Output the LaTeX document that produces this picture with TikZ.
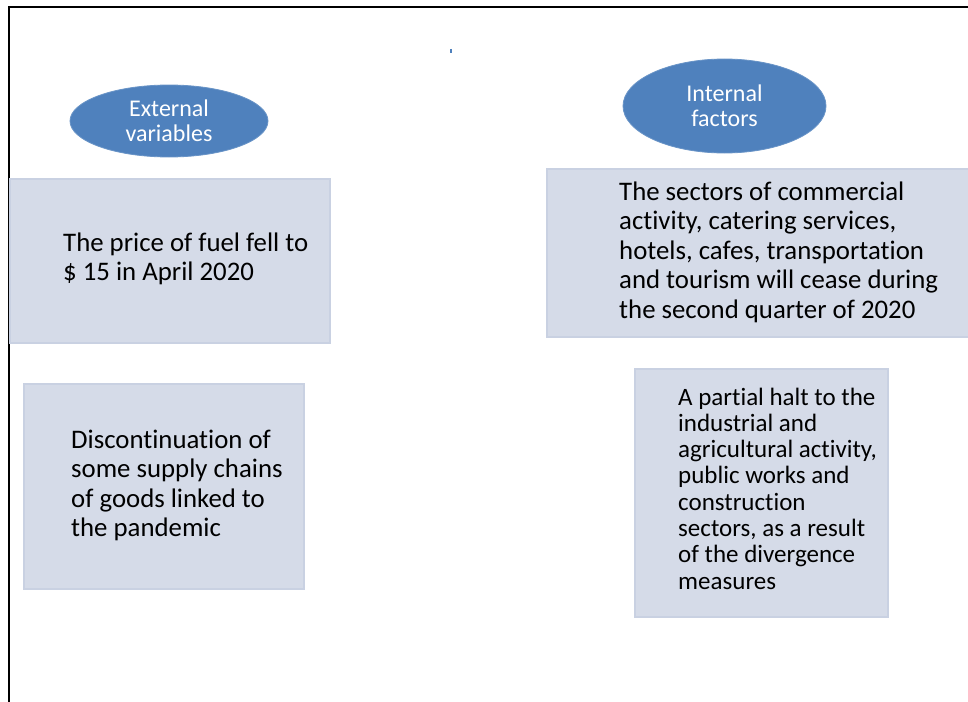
\documentclass[tikz,border=0pt]{standalone}
\usepackage{fontspec}
\setmainfont{Carlito}[RawFeature=-liga]
\usetikzlibrary{shapes.geometric}
\definecolor{ellblue}{RGB}{79,129,189}
\definecolor{boxfill}{RGB}{213,219,232}
\definecolor{boxline}{RGB}{201,209,226}
\tikzset{
  boxst/.style={draw=boxline, fill=boxfill, line width=2pt, inner sep=0pt, rectangle},
  ellst/.style={ellipse, fill=ellblue, draw=ellblue!85!white, line width=0.8pt, inner sep=0pt, text=white, align=center, font=\fontsize{24}{25}\selectfont},
  txtbig/.style={anchor=base west, inner sep=0pt, text=black},
}
\newcommand{\bigtext}[2]{\parbox[t]{#1pt}{\raggedright\fontsize{26.8}{29.5}\selectfont #2}}
\newcommand{\smalltext}[2]{\parbox[t]{#1pt}{\raggedright\fontsize{25}{26.3}\selectfont #2}}
\begin{document}
\begin{tikzpicture}[x=1pt,y={(0pt,-1pt)}]
\useasboundingbox (0,0) rectangle (968,701);
\fill[white] (0,0) rectangle (968,701);
% frame lines
\coordinate (fa) at (8,7);
\coordinate (fb) at (980,7);
\coordinate (fc) at (9,710);
\draw[line width=2pt] (fb) -- (fa) -- (9,7) -- (fc);
% small tick
\coordinate (ka) at (451,49);
\coordinate (kb) at (451,53);
\draw[ellblue, line width=1.5pt] (ka) -- (kb);
% ellipses
\node[ellst, minimum width=198pt, minimum height=72pt] (ext) at (169,121) {External\\variables};
\node[ellst, minimum width=203pt, minimum height=94pt] (int) at (724.5,106) {Internal\\factors};
% boxes
\node[boxst, minimum width=320pt, minimum height=164pt] (box1) at (170,261) {};
\node[boxst, minimum width=440pt, minimum height=168pt] (box2) at (767,253) {};
\node[boxst, minimum width=280pt, minimum height=205pt] (box3) at (164,486.5) {};
\node[boxst, minimum width=253pt, minimum height=248pt] (box4) at (761.5,493) {};
% texts
\node[txtbig] (t1) at (63,251) {\bigtext{265}{The price of fuel fell to\\\$ 15 in April 2020}};
\node[txtbig] (t2) at (619,200) {\bigtext{345}{The sectors of commercial\\activity, catering services,\\hotels, cafes, transportation\\and tourism will cease during\\the second quarter of 2020}};
\node[txtbig] (t3) at (71,448) {\bigtext{225}{Discontinuation of\\some supply chains\\of goods linked to\\the pandemic}};
\node[txtbig] (t4) at (678,405) {\smalltext{210}{A partial halt to the\\industrial and\\agricultural activity,\\public works and\\construction\\sectors, as a result\\of the divergence\\measures}};
\end{tikzpicture}
\end{document}
